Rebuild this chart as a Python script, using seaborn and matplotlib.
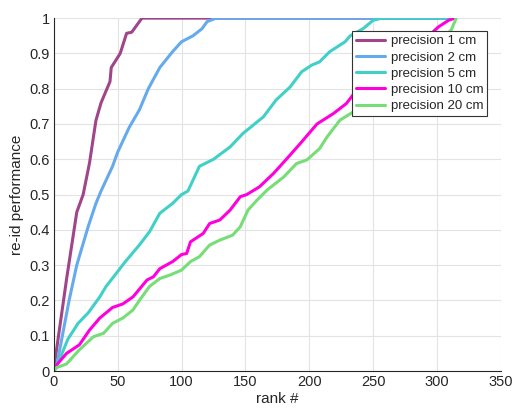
import numpy as np
import pandas as pd
import matplotlib
matplotlib.use("Agg")
import matplotlib.pyplot as plt
import seaborn as sns

# rank / re-id performance
rank_1cm = [0, 1, 10, 18, 23, 28, 33, 37, 44, 45, 52, 57, 61, 69, 314]
perf_1cm = [0.0, 0.03, 0.26, 0.45, 0.50, 0.59, 0.71, 0.76, 0.82, 0.86, 0.90, 0.957, 0.96, 1.0, 1.0]

rank_2cm = [0, 2, 12, 18, 27, 33, 37, 46, 50, 59, 67, 74, 83, 93, 100, 109, 116, 120, 127, 314]
perf_2cm = [0.0, 0.01, 0.20, 0.30, 0.41, 0.475, 0.51, 0.58, 0.62, 0.69, 0.74, 0.80, 0.86, 0.905,
            0.933, 0.95, 0.97, 0.99, 1.0, 1.0]

rank_5cm = [0, 2, 11, 19, 27, 36, 41, 49, 56, 67, 75, 83, 93, 100, 105, 114, 125, 138, 148,
            164, 174, 185, 194, 202, 208, 216, 228, 232, 242, 250, 257, 314]
perf_5cm = [0.0, 0.01, 0.09, 0.135, 0.165, 0.21, 0.24, 0.277, 0.31, 0.357, 0.395, 0.447, 0.475,
            0.50, 0.51, 0.58, 0.60, 0.635, 0.673, 0.72, 0.768, 0.805, 0.848, 0.867, 0.876, 0.905,
            0.933, 0.95, 0.97, 0.994, 1.0, 1.0]

rank_10cm = [0, 1, 10, 20, 28, 36, 46, 54, 62, 73, 78, 83, 93, 100, 104, 107, 117, 122, 130,
             138, 146, 151, 161, 172, 182, 193, 206, 219, 229, 237, 260, 280, 301, 309, 314]
perf_10cm = [0.0, 0.012, 0.05, 0.074, 0.116, 0.15, 0.18, 0.19, 0.21, 0.258, 0.267, 0.29, 0.31,
             0.33, 0.333, 0.366, 0.39, 0.418, 0.428, 0.456, 0.494, 0.50, 0.522, 0.56, 0.60,
             0.645, 0.70, 0.73, 0.758, 0.796, 0.85, 0.905, 0.975, 0.994, 1.0]

rank_20cm = [0, 1, 10, 20, 31, 39, 46, 54, 62, 67, 75, 83, 91, 100, 107, 114, 122, 130, 140,
             146, 152, 159, 167, 180, 190, 198, 208, 214, 224, 237, 260, 285, 311, 315]
perf_20cm = [0.0, 0.008, 0.02, 0.06, 0.097, 0.107, 0.135, 0.15, 0.173, 0.20, 0.24, 0.262, 0.272,
             0.286, 0.31, 0.324, 0.357, 0.371, 0.385, 0.409, 0.456, 0.484, 0.513, 0.55, 0.588,
             0.598, 0.63, 0.664, 0.711, 0.74, 0.81, 0.88, 0.966, 1.0]

labels = ["precision 1 cm", "precision 2 cm", "precision 5 cm", "precision 10 cm", "precision 20 cm"]
colors = ["#A0458A", "#66AAEE", "#40D0C8", "#FF00DD", "#77DD77"]

series = [(rank_1cm, perf_1cm), (rank_2cm, perf_2cm), (rank_5cm, perf_5cm),
          (rank_10cm, perf_10cm), (rank_20cm, perf_20cm)]
frames = []
for lab, (r, p) in zip(labels, series):
    frames.append(pd.DataFrame({"rank": r, "perf": p, "precision": lab}))
df = pd.concat(frames, ignore_index=True)

sns.set_theme(style="whitegrid")
plt.rcParams.update({
    "font.family": ["Liberation Sans", "DejaVu Sans"],
    "axes.edgecolor": "#262626",
    "axes.linewidth": 0.8,
    "grid.color": "#E3E3E3",
    "grid.linewidth": 0.8,
    "xtick.direction": "in",
    "ytick.direction": "in",
    "xtick.color": "#262626",
    "ytick.color": "#262626",
})

fig = plt.figure(figsize=(5.12, 4.12), dpi=100)
ax = fig.add_axes([0.105, 0.0995, 0.8735, 0.8565])

sns.lineplot(data=df, x="rank", y="perf", hue="precision", hue_order=labels,
             palette=colors, lw=2.2, sort=False, estimator=None, ax=ax)

ax.set_xlim(0, 350)
ax.set_ylim(0, 1)
ax.set_xticks(np.arange(0, 351, 50))
ax.set_yticks(np.arange(0, 1.01, 0.1))
ax.set_yticklabels(["0", "0.1", "0.2", "0.3", "0.4", "0.5", "0.6", "0.7", "0.8", "0.9", "1"])
ax.tick_params(axis="both", labelsize=10.5, length=4, width=0.8, colors="#262626", pad=3)
ax.set_xlabel("rank #", fontsize=11, labelpad=2)
ax.set_ylabel("re-id performance", fontsize=11, labelpad=4)
ax.spines["top"].set_visible(False)
ax.spines["right"].set_visible(False)

leg = ax.legend(loc="upper right", bbox_to_anchor=(0.969, 0.963), fontsize=9.5,
                frameon=True, fancybox=False, edgecolor="#333333", framealpha=1,
                handlelength=2.2, borderpad=0.3, labelspacing=0.3, handletextpad=0.4,
                borderaxespad=0)
leg.get_frame().set_linewidth(0.8)

fig.savefig("out.png", dpi=100)
